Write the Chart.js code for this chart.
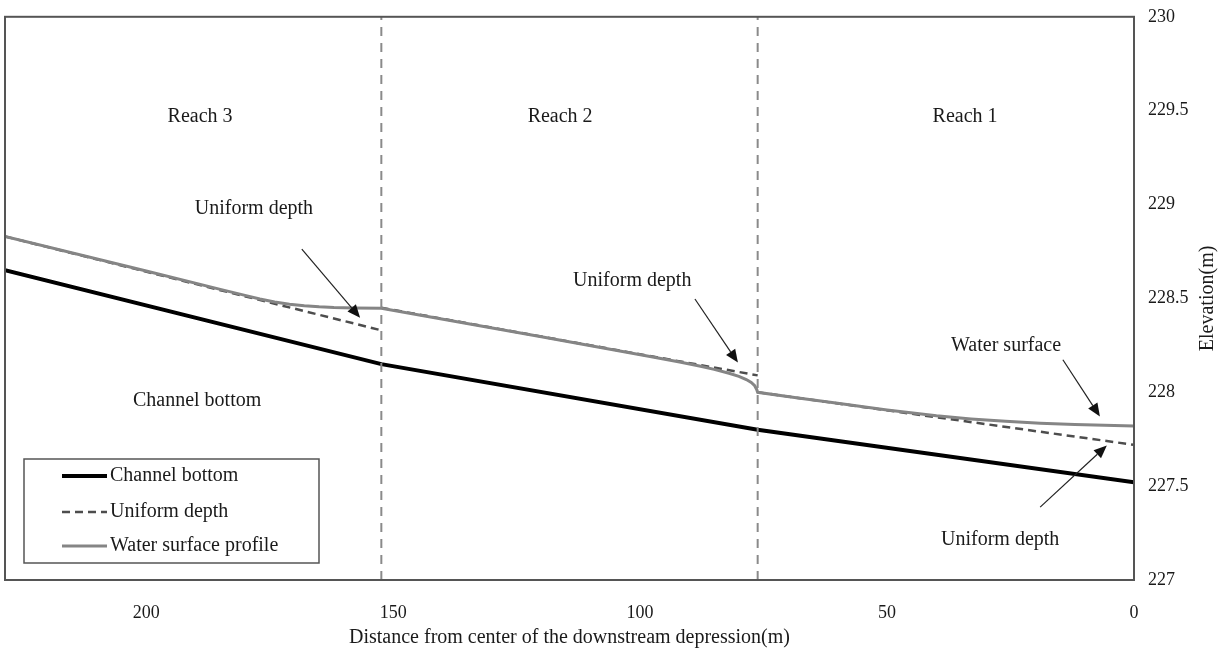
<!DOCTYPE html>
<html>
<head>
<meta charset="utf-8">
<script src="https://cdn.jsdelivr.net/npm/chart.js@4.4.1/dist/chart.umd.min.js"></script>
<style>
html, body { margin: 0; padding: 0; background: #fff; }
</style>
</head>
<body>
<canvas id="chart" width="1218" height="650"></canvas>
<script>
// 距離(m)：右端0が下流の窪地中心
const X_TICKS = [0, 50, 100, 150, 200];
const Y_TICKS = [227, 227.5, 228, 228.5, 229, 229.5, 230];
const REACH_BOUNDS = [152.4, 76.2];

// 水路床
const BOTTOM_X = [228.6, 152.4, 76.2, 0];
const BOTTOM_Y = [228.65, 228.15, 227.80, 227.52];

// 等流水深（区間ごとに途切れる）
const UNIFORM_X = [228.6, 152.4, 152.4, 152.4, 76.2, 76.2, 76.2, 0];
const UNIFORM_Y = [228.83, 228.33, null, 228.45, 228.09, null, 228.00, 227.72];

// 水面形
const WATER_X = [228.6, 200, 185, 180, 177, 174, 171, 168, 165, 162, 158, 152.4, 120, 98, 92, 88, 85, 82, 80, 78.5, 77.5, 76.8, 76.4, 76.2, 68, 60, 50, 40, 33, 26, 19, 12, 6, 0];
const WATER_Y = [228.83, 228.646, 228.548, 228.516, 228.497, 228.481, 228.469, 228.461, 228.455, 228.451, 228.449, 228.447, 228.296, 228.19, 228.161, 228.14, 228.122, 228.101, 228.085, 228.068, 228.052, 228.035, 228.015, 228.00, 227.97, 227.942, 227.906, 227.875, 227.858, 227.845, 227.835, 227.828, 227.824, 227.82];

// 注記テキスト
const NOTE_TEXT = ['Reach 3', 'Reach 2', 'Reach 1', 'Uniform depth', 'Uniform depth', 'Water surface', 'Uniform depth', 'Channel bottom'];
const NOTE_X = [189.1, 116.2, 34.2, 178.2, 101.6, 25.9, 27.1, 189.7];
const NOTE_Y = [229.47, 229.47, 229.47, 228.98, 228.593, 228.248, 227.212, 227.956];

// 矢印（始点→終点）
const ARROW_X0 = [168.5, 88.9, 14.4, 19.0];
const ARROW_Y0 = [228.763, 228.497, 228.173, 227.388];
const ARROW_X1 = [156.7, 80.2, 6.9, 5.5];
const ARROW_Y1 = [228.397, 228.158, 227.871, 227.717];

const FONT = '"Liberation Serif", "Times New Roman", serif';
const TEXT_COLOR = '#1a1a1a';

function toPoints(xs, ys) {
    return xs.map((x, i) => ({ x: x, y: ys[i] }));
}

// 枠・凡例・注記・軸タイトルを描く
const decorPlugin = {
    id: 'decor',
    afterDatasetsDraw(chart) {
        const ctx = chart.ctx;
        const ca = chart.chartArea;
        const xs = chart.scales.x;
        const ys = chart.scales.y;
        ctx.save();

        // プロット枠
        ctx.strokeStyle = '#555';
        ctx.lineWidth = 2;
        ctx.setLineDash([]);
        ctx.strokeRect(ca.left, ca.top, ca.right - ca.left, ca.bottom - ca.top);

        // 注記
        ctx.fillStyle = TEXT_COLOR;
        ctx.font = '20px ' + FONT;
        ctx.textAlign = 'center';
        ctx.textBaseline = 'middle';
        NOTE_TEXT.forEach((t, i) => {
            ctx.fillText(t, xs.getPixelForValue(NOTE_X[i]), ys.getPixelForValue(NOTE_Y[i]));
        });

        // 矢印
        ctx.strokeStyle = '#222';
        ctx.fillStyle = '#111';
        ctx.lineWidth = 1.2;
        ARROW_X0.forEach((_, i) => {
            const x0 = xs.getPixelForValue(ARROW_X0[i]);
            const y0 = ys.getPixelForValue(ARROW_Y0[i]);
            const x1 = xs.getPixelForValue(ARROW_X1[i]);
            const y1 = ys.getPixelForValue(ARROW_Y1[i]);
            const a = Math.atan2(y1 - y0, x1 - x0);
            const len = 13, half = 5.5;
            const bx = x1 - len * Math.cos(a);
            const by = y1 - len * Math.sin(a);
            ctx.beginPath();
            ctx.moveTo(x0, y0);
            ctx.lineTo(bx, by);
            ctx.stroke();
            ctx.beginPath();
            ctx.moveTo(x1, y1);
            ctx.lineTo(bx + half * Math.sin(a), by - half * Math.cos(a));
            ctx.lineTo(bx - half * Math.sin(a), by + half * Math.cos(a));
            ctx.closePath();
            ctx.fill();
        });

        // 凡例
        const lx = ca.left + 19, ly = ca.bottom - 121;
        ctx.fillStyle = '#fff';
        ctx.fillRect(lx, ly, 295, 104);
        ctx.strokeStyle = '#555';
        ctx.lineWidth = 1.5;
        ctx.strokeRect(lx, ly, 295, 104);
        const items = chart.data.datasets.filter(d => d.label);
        const rowY = [ly + 17, ly + 53, ly + 87];
        items.forEach((d, i) => {
            ctx.strokeStyle = d.borderColor;
            ctx.lineWidth = d.borderWidth;
            ctx.setLineDash(d.borderDash || []);
            ctx.beginPath();
            ctx.moveTo(lx + 38, rowY[i]);
            ctx.lineTo(lx + 83, rowY[i]);
            ctx.stroke();
            ctx.setLineDash([]);
            ctx.fillStyle = TEXT_COLOR;
            ctx.textAlign = 'left';
            ctx.fillText(d.label, lx + 86, rowY[i]);
        });

        // 軸タイトル
        ctx.fillStyle = TEXT_COLOR;
        ctx.textAlign = 'center';
        ctx.fillText('Distance from center of the downstream depression(m)', (ca.left + ca.right) / 2, ca.bottom + 58);
        ctx.translate(ca.right + 74, (ca.top + ca.bottom) / 2);
        ctx.rotate(-Math.PI / 2);
        ctx.fillText('Elevation(m)', 0, 0);
        ctx.restore();
    }
};

const datasets = [
    {
        label: 'Channel bottom',
        data: toPoints(BOTTOM_X, BOTTOM_Y),
        borderColor: '#000',
        borderWidth: 4,
        pointRadius: 0,
        tension: 0,
        order: 3,
    },
    {
        label: 'Uniform depth',
        data: toPoints(UNIFORM_X, UNIFORM_Y),
        borderColor: '#4d4d4d',
        borderWidth: 2.5,
        borderDash: [8, 5],
        pointRadius: 0,
        spanGaps: false,
        tension: 0,
        order: 2,
    },
    {
        label: 'Water surface profile',
        data: toPoints(WATER_X, WATER_Y),
        borderColor: '#858585',
        borderWidth: 3,
        pointRadius: 0,
        tension: 0,
        order: 1,
    },
];

// 区間境界の縦点線
REACH_BOUNDS.forEach(b => {
    datasets.push({
        data: [{ x: b, y: 227 }, { x: b, y: 230 }],
        borderColor: '#8a8a8a',
        borderWidth: 2,
        borderDash: [9, 7],
        pointRadius: 0,
        order: 0,
    });
});

new Chart(document.getElementById('chart').getContext('2d'), {
    type: 'line',
    data: { datasets: datasets },
    options: {
        responsive: false,
        animation: false,
        devicePixelRatio: 1,
        layout: { padding: { left: 5, top: 3, right: 0, bottom: 0 } },
        scales: {
            x: {
                type: 'linear',
                reverse: true,
                min: 0,
                max: 228.6,
                grid: { display: false },
                border: { display: false },
                afterBuildTicks: (axis) => { axis.ticks = X_TICKS.map(v => ({ value: v })); },
                afterFit: (scale) => { scale.height = 70; },
                ticks: {
                    padding: 14,
                    color: TEXT_COLOR,
                    font: { family: FONT, size: 18 },
                    callback: (v) => String(v),
                },
            },
            y: {
                position: 'right',
                min: 227,
                max: 230,
                grid: { display: false },
                border: { display: false },
                afterBuildTicks: (axis) => { axis.ticks = Y_TICKS.map(v => ({ value: v })); },
                afterFit: (scale) => { scale.width = 84; },
                ticks: {
                    padding: 6,
                    color: TEXT_COLOR,
                    font: { family: FONT, size: 18 },
                    callback: (v) => String(v),
                },
            },
        },
        plugins: {
            legend: { display: false },
            tooltip: { enabled: false },
        },
    },
    plugins: [decorPlugin],
});
</script>
</body>
</html>
